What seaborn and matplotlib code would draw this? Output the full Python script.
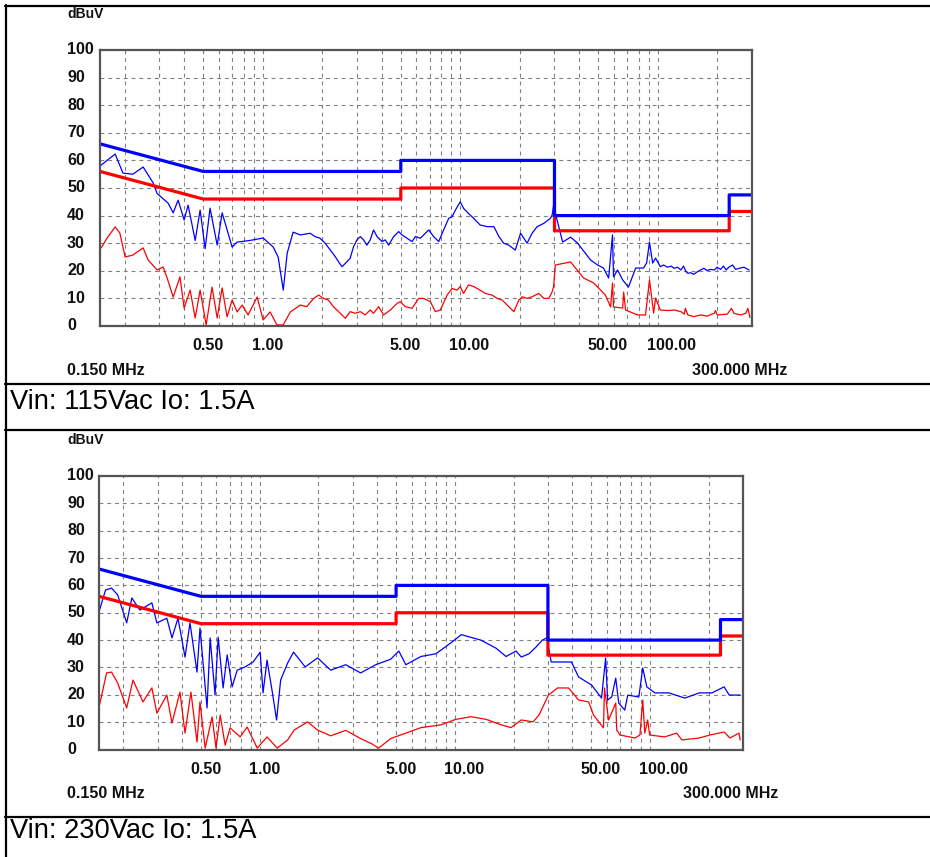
import matplotlib
matplotlib.use("Agg")
import matplotlib.pyplot as plt
import seaborn as sns
import pandas as pd
from matplotlib.lines import Line2D
from matplotlib.ticker import FixedLocator, NullFormatter
from matplotlib.transforms import ScaledTranslation, blended_transform_factory

sns.set_style("white")
plt.rcParams["font.family"] = ["Liberation Sans", "DejaVu Sans"]

# ---------------- data ----------------
# limit lines (MHz, dBuV)
limit_freq = [0.15, 0.5, 5, 5, 30, 30, 230, 230, 300]
qp_limit = [66, 56, 56, 60, 60, 40, 40, 47.5, 47.5]
av_limit = [56, 46, 46, 50, 50, 34.5, 34.5, 41.5, 41.5]

# Vin 115Vac : blue (QP) trace
top_blue_f = [0.152, 0.179, 0.196, 0.22, 0.248, 0.278, 0.292, 0.332, 0.352, 0.373, 0.400, 0.419,
              0.455, 0.482, 0.511, 0.541, 0.588, 0.623, 0.660, 0.700, 0.742, 0.863, 1.005, 1.13,
              1.197, 1.27, 1.33, 1.425,
              1.55, 1.74, 1.84, 1.95, 2.07, 2.20, 2.33, 2.45, 2.52, 2.62,
              2.77, 2.88, 3.00, 3.12, 3.24, 3.37, 3.50, 3.64, 3.79, 4.02,
              4.17, 4.34, 4.60, 4.88, 5.07, 5.38, 5.70, 5.93, 6.28, 6.66,
              6.92, 7.33, 7.78, 8.24, 8.74, 9.09, 9.45, 10.0, 10.4, 11.0,
              11.7, 12.6, 13.7, 14.8, 15.7, 16.6, 17.6, 19.0, 20.2, 21.8,
              23.1, 24.5, 26.5, 28.6,
              29.2, 29.7, 30.3, 33.0, 36.2, 39.3, 45.7, 49.6, 53.1, 56.4, 59.0, 59.7, 62.6, 66.4, 71.1,
              77.3, 84.7, 87.8, 90.8, 94.2, 97.5,
              103, 107, 112, 117, 121, 126, 131, 135, 139, 142, 147, 152, 159, 165,
              171, 178, 185, 193, 200, 208, 215, 222, 229, 239, 248, 258, 273, 290]
top_blue_db = [58.3, 62.3, 55.4, 55.0, 57.6, 52.0, 48.0, 44.5, 41.0, 45.6, 38.4, 43.8,
               31.0, 42.0, 28.0, 42.7, 29.3, 41.0, 34.8, 28.6, 30.4, 31.0, 31.9, 28.6,
               25.0, 13.0, 26.4, 34.0,
               33.0, 33.6, 32.4, 31.8, 30.0, 27.5, 25.1, 22.7, 21.5, 22.7,
               24.5, 28.7, 31.2, 32.4, 31.2, 29.3, 31.2, 34.8, 32.4, 30.6,
               31.2, 29.3, 32.4, 34.2, 33.0, 31.8, 30.6, 32.4, 31.8, 33.6,
               34.8, 32.4, 30.6, 34.8, 39.0, 39.6, 42.0, 45.0, 42.6, 40.8,
               39.0, 36.6, 36.0, 36.0, 32.4, 30.0, 29.3, 27.5, 33.6, 30.0,
               33.6, 36.0, 37.2, 39.0,
               40.2, 43.8, 40.9, 30.4, 32.2, 30.0, 23.9, 22.1, 21.0, 17.4, 33.0, 17.8, 20.3, 16.7, 14.1,
               21.0, 21.0, 22.8, 30.4, 22.8, 24.6,
               21.5, 22.1, 21.3, 21.7, 20.9, 21.3, 20.3, 21.7, 19.7, 19.1, 19.3, 18.7, 19.7, 20.3,
               20.9, 20.1, 20.5, 20.3, 21.3, 20.5, 21.7, 20.3, 21.3, 22.1, 20.5, 20.9, 21.3, 20.3]

# Vin 115Vac : red (AV) trace
top_red_f = [0.152, 0.163, 0.179, 0.189, 0.201, 0.220, 0.248, 0.263, 0.292, 0.313, 0.328, 0.352,
             0.381, 0.400, 0.429, 0.455, 0.482, 0.517, 0.554, 0.588, 0.623, 0.660, 0.700, 0.742,
             0.787, 0.843, 0.937, 1.005, 1.09, 1.18, 1.27, 1.38,
             1.55, 1.67, 1.81, 1.92, 2.03, 2.15, 2.28, 2.42, 2.62, 2.77,
             2.94, 3.12, 3.30, 3.50, 3.64, 3.86, 4.09, 4.43, 4.79, 4.97,
             5.27, 5.70, 6.16, 6.52, 7.06, 7.48, 7.93, 8.58, 9.09, 9.64,
             10.0, 10.4, 11.0, 11.7, 12.6, 13.4, 14.5, 15.4, 16.3, 17.6,
             18.7, 19.8, 20.6, 21.8, 23.1, 25.0, 26.5, 28.1, 29.2, 29.7, 30.3,
             36.2, 42.1, 47.3, 54.3, 57.7, 59.0, 59.7, 66.4, 67.2, 68.7, 79.0, 86.7,
             90.8, 95.3, 97.5,
             103, 112, 121, 131, 136, 138, 142, 152, 165, 178, 193, 196, 200, 225,
             236, 243, 263, 279, 286, 293]
top_red_db = [28.3, 31.9, 35.9, 33.7, 25.0, 25.7, 28.3, 23.9, 20.3, 21.4, 17.4, 10.5,
              17.8, 6.5, 13.0, 2.9, 13.0, 0.4, 14.1, 2.9, 13.8, 3.3, 9.4, 5.1,
              7.6, 4.0, 10.5, 2.2, 5.1, 0.4, 0.4, 5.1,
              7.6, 7.0, 10.0, 11.2, 10.0, 9.4, 7.0, 5.2, 2.8, 5.2,
              4.6, 5.2, 4.0, 5.8, 4.6, 7.0, 4.0, 5.8, 8.2, 8.8,
              7.0, 6.4, 10.0, 10.0, 8.8, 5.2, 5.8, 11.2, 13.6, 13.0,
              14.3, 11.8, 14.9, 14.3, 13.0, 11.8, 11.2, 10.0, 9.4, 7.0,
              5.2, 9.4, 10.6, 10.0, 10.6, 11.8, 10.0, 10.0, 12.4, 14.3, 22.1,
              23.2, 17.4, 15.6, 11.2, 6.9, 15.6, 6.9, 6.5, 12.3, 5.8, 4.0, 4.0,
              16.7, 4.7, 10.1,
              5.8, 5.6, 5.8, 5.2, 4.3, 6.4, 4.0, 3.4, 4.0, 3.6, 4.6, 5.6, 4.0, 4.3,
              6.4, 4.6, 4.0, 4.6, 6.4, 3.1]

# Vin 230Vac : blue (QP) trace
bot_blue_f = [0.151, 0.162, 0.174, 0.187, 0.208, 0.221, 0.243, 0.280, 0.297, 0.334, 0.355, 0.381,
              0.414, 0.439, 0.477, 0.494, 0.537, 0.557, 0.590, 0.612, 0.649, 0.681, 0.722, 0.766,
              0.842, 0.925, 1.005, 1.04, 1.09, 1.16, 1.22, 1.28, 1.39, 1.49, 1.71, 1.98, 2.31,
              2.76, 3.29, 3.93, 4.69, 5.16, 5.61, 6.70, 8.0, 9.55, 10.8, 12.1, 13.6, 16.3, 18.3,
              20.6, 21.9, 24.0, 26.1, 28.1, 29.6, 31.2, 35.2, 39.6, 43.1, 50.2, 56.5, 59.3, 60.7,
              63.7, 66.8, 69.2, 74.3, 77.0, 87.7, 91.9, 96.4, 106, 125, 151, 179, 208, 240, 255, 290]
bot_blue_db = [51.0, 58.3, 59.0, 56.5, 46.3, 55.4, 51.0, 53.6, 46.3, 48.0, 40.8, 48.0,
               33.8, 46.3, 28.3, 44.4, 15.2, 40.8, 19.9, 41.1, 22.5, 34.6, 22.9, 29.0,
               30.2, 32.0, 35.6, 20.7, 32.7, 21.0, 10.8, 25.4, 31.6, 35.6, 30.2, 33.5, 29.0,
               31.0, 28.0, 31.0, 33.0, 36.0, 31.0, 34.0, 35.0, 39.0, 42.0, 41.0, 40.0, 37.0, 34.0,
               36.0, 33.8, 35.0, 37.5, 40.0, 40.8, 32.0, 32.0, 32.0, 26.5, 23.6, 18.8, 33.5, 18.1,
               19.2, 26.1, 17.0, 14.4, 19.9, 19.2, 29.8, 22.9, 20.7, 20.7, 18.8, 20.7, 20.7, 22.9, 19.9, 19.9]

# Vin 230Vac : red (AV) trace
bot_red_f = [0.151, 0.164, 0.174, 0.187, 0.208, 0.224, 0.252, 0.280, 0.297, 0.334, 0.355, 0.390,
             0.414, 0.444, 0.477, 0.494, 0.525, 0.570, 0.597, 0.627, 0.665, 0.705, 0.794, 0.862,
             0.971, 1.09, 1.23, 1.39, 1.50, 1.76, 1.98, 2.31, 2.76, 3.29, 3.77, 4.07, 4.69, 5.61,
             6.70, 8.49, 10.1, 12.1, 14.5, 17.3, 19.4, 21.9, 25.2, 27.0, 30.2, 33.6, 38.3, 43.1,
             48.5, 51.4, 57.8, 58.5, 61.4, 66.8, 67.6, 70.2, 83.8, 88.9, 91.9, 94.1, 97.4, 99.7,
             119, 137, 146, 179, 203, 240, 257, 286, 290]
bot_red_db = [16.3, 28.0, 28.3, 24.3, 15.2, 25.4, 17.4, 22.5, 13.3, 19.9, 9.7, 21.0,
              6.0, 21.0, 2.7, 17.4, 0.5, 11.9, 0.5, 12.6, 1.6, 7.9, 4.6, 8.2,
              0.5, 4.6, 0.5, 3.5, 7.1, 10.1, 7.1, 5.0, 7.0, 4.0, 2.0, 0.5, 4.0, 6.0,
              8.0, 9.0, 11.0, 12.0, 11.0, 9.0, 8.0, 10.8, 10.1, 12.6, 19.9, 22.5, 22.5, 18.1,
              17.4, 12.6, 7.9, 22.5, 10.8, 17.0, 7.1, 5.3, 4.2, 5.3, 18.1, 6.0, 10.8, 5.3,
              4.6, 6.0, 3.5, 4.2, 5.3, 6.4, 4.2, 6.0, 3.5]

x_tick_vals = [0.5, 1, 5, 10, 50, 100]
x_tick_labels = ["0.50", "1.00", "5.00", "10.00", "50.00", "100.00"]
x_grid_minor = [0.2, 0.3, 0.4, 0.6, 0.7, 0.8, 0.9, 2, 3, 4, 6, 7, 8, 9,
                20, 30, 40, 60, 70, 80, 90, 200]
y_tick_vals = [0, 10, 20, 30, 40, 50, 60, 70, 80, 90, 100]
unit_label = "dBuV"
start_label = "0.150 MHz"
stop_label = "300.000 MHz"
captions = ["Vin: 115Vac Io: 1.5A", "Vin: 230Vac Io: 1.5A"]

for a, b in [(top_blue_f, top_blue_db), (top_red_f, top_red_db),
             (bot_blue_f, bot_blue_db), (bot_red_f, bot_red_db)]:
    assert len(a) == len(b), (len(a), len(b))

# ---------------- figure ----------------
W, H = 930, 857
fig = plt.figure(figsize=(W / 100, H / 100), dpi=100)

BLUE = "#0000ff"
RED = "#ff0000"
LBL = dict(fontsize=11.5, fontweight="bold", color="#111111")


def add_panel(box, blue, red, caption, cap_y):
    l, t, r, b = box
    ax = fig.add_axes([l / W, 1 - b / H, (r - l) / W, (b - t) / H])
    ax.set_xscale("log")
    df_b = pd.DataFrame({"f": blue[0], "db": blue[1]})
    df_r = pd.DataFrame({"f": red[0], "db": red[1]})
    sns.lineplot(data=df_r, x="f", y="db", ax=ax, color=RED, lw=0.9, sort=False, estimator=None)
    sns.lineplot(data=df_b, x="f", y="db", ax=ax, color=BLUE, lw=0.9, sort=False, estimator=None)
    sns.lineplot(x=limit_freq, y=av_limit, ax=ax, color=RED, lw=2.3, sort=False, estimator=None)
    sns.lineplot(x=limit_freq, y=qp_limit, ax=ax, color=BLUE, lw=2.3, sort=False, estimator=None)
    ax.set_xlim(0.15, 300)
    ax.set_ylim(0, 100)
    ax.set_xlabel("")
    ax.set_ylabel("")
    ax.xaxis.set_major_locator(FixedLocator(x_tick_vals))
    ax.xaxis.set_minor_locator(FixedLocator(x_grid_minor))
    ax.xaxis.set_major_formatter(NullFormatter())
    ax.xaxis.set_minor_formatter(NullFormatter())
    ax.yaxis.set_major_locator(FixedLocator(y_tick_vals))
    ax.yaxis.set_major_formatter(NullFormatter())
    ax.tick_params(which="both", length=0)
    ax.grid(True, which="both", axis="x", color="#808080", lw=0.8, ls=(0, (3.5, 3.5)))
    ax.grid(True, which="major", axis="y", color="#808080", lw=0.8, ls=(0, (3.5, 3.5)))
    ax.set_axisbelow(True)
    for s in ax.spines.values():
        s.set_visible(True)
        s.set_color("#555555")
        s.set_linewidth(1.6)
    # x tick labels
    tx = blended_transform_factory(ax.transData, ax.transAxes)
    for v, s in zip(x_tick_vals, x_tick_labels):
        ax.text(v, 0, s, transform=tx + ScaledTranslation(-11 / 100, -20 / 100, fig.dpi_scale_trans),
                ha="left", va="center", **LBL)
    ty = blended_transform_factory(ax.transAxes, ax.transData)
    for v in y_tick_vals:
        ax.text(0, v, str(v), transform=ty + ScaledTranslation(-(l - 67) / 100, 0, fig.dpi_scale_trans),
                ha="left", va="center", **LBL)
    fig.text(67 / W, 1 - (t - 36) / H, unit_label, ha="left", va="center",
             fontsize=10, fontweight="bold", color="#111111")
    fig.text(67 / W, 1 - (b + 44) / H, start_label, ha="left", va="center", **LBL)
    fig.text((r + 35) / W, 1 - (b + 44) / H, stop_label, ha="right", va="center", **LBL)
    fig.text(10 / W, 1 - cap_y / H, caption, ha="left", va="center", fontsize=19.6, color="black")
    return ax


add_panel((100, 50, 752, 326), (top_blue_f, top_blue_db), (top_red_f, top_red_db), captions[0], 402)
add_panel((99, 476, 743, 749.5), (bot_blue_f, bot_blue_db), (bot_red_f, bot_red_db), captions[1], 831)

# table border lines
for yy in [5.5, 384, 430, 816.5]:
    fig.add_artist(Line2D([5 / W, 1], [1 - yy / H] * 2, color="black", lw=1.6))
fig.add_artist(Line2D([6 / W, 6 / W], [1 - 5 / H, 0], color="black", lw=1.6))

fig.savefig("out.png", dpi=100)
